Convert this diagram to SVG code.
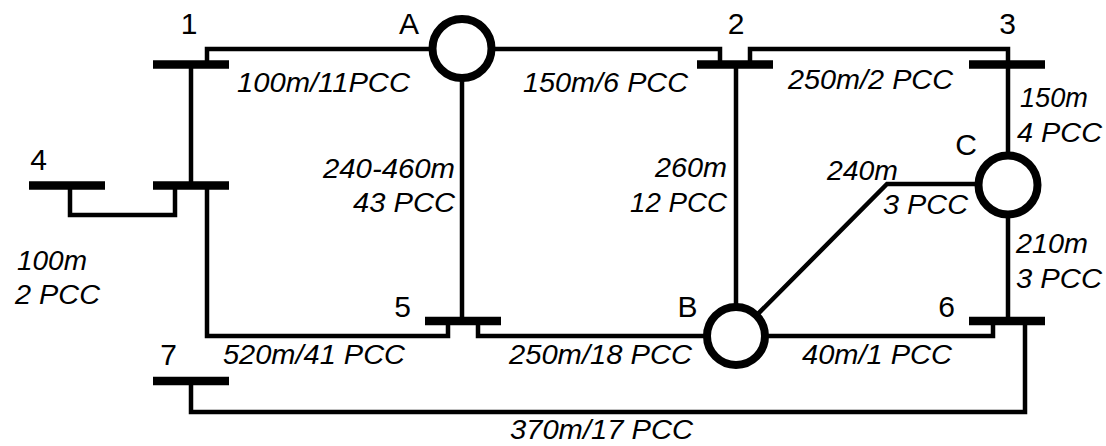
<svg xmlns="http://www.w3.org/2000/svg" width="1106" height="446" viewBox="0 0 1106 446">
<style>
.w{fill:none;stroke:#000;stroke-width:4.5;stroke-linejoin:miter}
.bus{stroke:#000;stroke-width:8.5}
.sw{fill:#fff;stroke:#000;stroke-width:8}
.lbl{font-family:"Liberation Sans",Arial,Helvetica,sans-serif;font-size:30px;fill:#000;text-anchor:middle}
.it{font-family:"Liberation Sans",Arial,Helvetica,sans-serif;font-size:27px;font-style:italic;fill:#000}
</style>
<rect width="1106" height="446" fill="#fff"/>
<g id="connectors">
<path class="w" d="M207 64 V49 H440"/>
<path class="w" d="M191 64 V185"/>
<path class="w" d="M70 185 V215 H175 V185"/>
<path class="w" d="M207 185 V336 H448 V321"/>
<path class="w" d="M462 48 V321"/>
<path class="w" d="M462 49 H720 V64"/>
<path class="w" d="M750 64 V49 H1008 V64"/>
<path class="w" d="M736 64 V336"/>
<path class="w" d="M1008 64 V185"/>
<path class="w" d="M1008 184 H887 L736 336"/>
<path class="w" d="M1008 185 V321"/>
<path class="w" d="M478 321 V336 H736"/>
<path class="w" d="M736 336 H993 V321"/>
<path class="w" d="M191 381 V412 H1025 V321"/>
<text class="it" x="237" y="92" textLength="173" lengthAdjust="spacingAndGlyphs">100m/11PCC</text>
<text class="it" x="523" y="92" textLength="165" lengthAdjust="spacingAndGlyphs">150m/6 PCC</text>
<text class="it" x="788" y="89" textLength="165" lengthAdjust="spacingAndGlyphs">250m/2 PCC</text>
<text class="it" x="323" y="178" textLength="132" lengthAdjust="spacingAndGlyphs">240-460m</text>
<text class="it" x="353" y="212" textLength="102" lengthAdjust="spacingAndGlyphs">43 PCC</text>
<text class="it" x="655" y="177" textLength="72" lengthAdjust="spacingAndGlyphs">260m</text>
<text class="it" x="630" y="212" textLength="97" lengthAdjust="spacingAndGlyphs">12 PCC</text>
<text class="it" x="1020" y="107" textLength="68" lengthAdjust="spacingAndGlyphs">150m</text>
<text class="it" x="1017" y="142" textLength="85" lengthAdjust="spacingAndGlyphs">4 PCC</text>
<text class="it" x="827" y="180" textLength="71" lengthAdjust="spacingAndGlyphs">240m</text>
<text class="it" x="883" y="214" textLength="85" lengthAdjust="spacingAndGlyphs">3 PCC</text>
<text class="it" x="1016" y="253" textLength="72" lengthAdjust="spacingAndGlyphs">210m</text>
<text class="it" x="1016" y="288" textLength="86" lengthAdjust="spacingAndGlyphs">3 PCC</text>
<text class="it" x="17" y="270" textLength="70" lengthAdjust="spacingAndGlyphs">100m</text>
<text class="it" x="15" y="304" textLength="85" lengthAdjust="spacingAndGlyphs">2 PCC</text>
<text class="it" x="223" y="364" textLength="182" lengthAdjust="spacingAndGlyphs">520m/41 PCC</text>
<text class="it" x="509" y="364" textLength="183" lengthAdjust="spacingAndGlyphs">250m/18 PCC</text>
<text class="it" x="802" y="364" textLength="150" lengthAdjust="spacingAndGlyphs">40m/1 PCC</text>
<text class="it" x="510" y="439" textLength="183" lengthAdjust="spacingAndGlyphs">370m/17 PCC</text>
</g>
<g id="bus1"><line class="bus" x1="153" y1="64.5" x2="229" y2="64.5"/><text class="lbl" x="189" y="34">1</text></g>
<g id="bus1b"><line class="bus" x1="153" y1="185.5" x2="229" y2="185.5"/></g>
<g id="bus4"><line class="bus" x1="29" y1="185.5" x2="105" y2="185.5"/><text class="lbl" x="38.5" y="170">4</text></g>
<g id="bus2"><line class="bus" x1="697" y1="64.5" x2="773" y2="64.5"/><text class="lbl" x="736" y="34">2</text></g>
<g id="bus3"><line class="bus" x1="969" y1="64.5" x2="1045" y2="64.5"/><text class="lbl" x="1007.5" y="34">3</text></g>
<g id="bus5"><line class="bus" x1="425" y1="321" x2="501" y2="321"/><text class="lbl" x="402.5" y="317">5</text></g>
<g id="bus6"><line class="bus" x1="969" y1="321" x2="1045" y2="321"/><text class="lbl" x="946.5" y="317">6</text></g>
<g id="bus7"><line class="bus" x1="153" y1="381" x2="229" y2="381"/><text class="lbl" x="168.5" y="365">7</text></g>
<g id="nodeA"><circle class="sw" cx="462" cy="48.5" r="29.5"/><text class="lbl" x="409" y="34">A</text></g>
<g id="nodeB"><circle class="sw" cx="736" cy="336" r="29"/><text class="lbl" x="687.5" y="317">B</text></g>
<g id="nodeC"><circle class="sw" cx="1008" cy="185" r="29.5"/><text class="lbl" x="966" y="155">C</text></g>
</svg>
